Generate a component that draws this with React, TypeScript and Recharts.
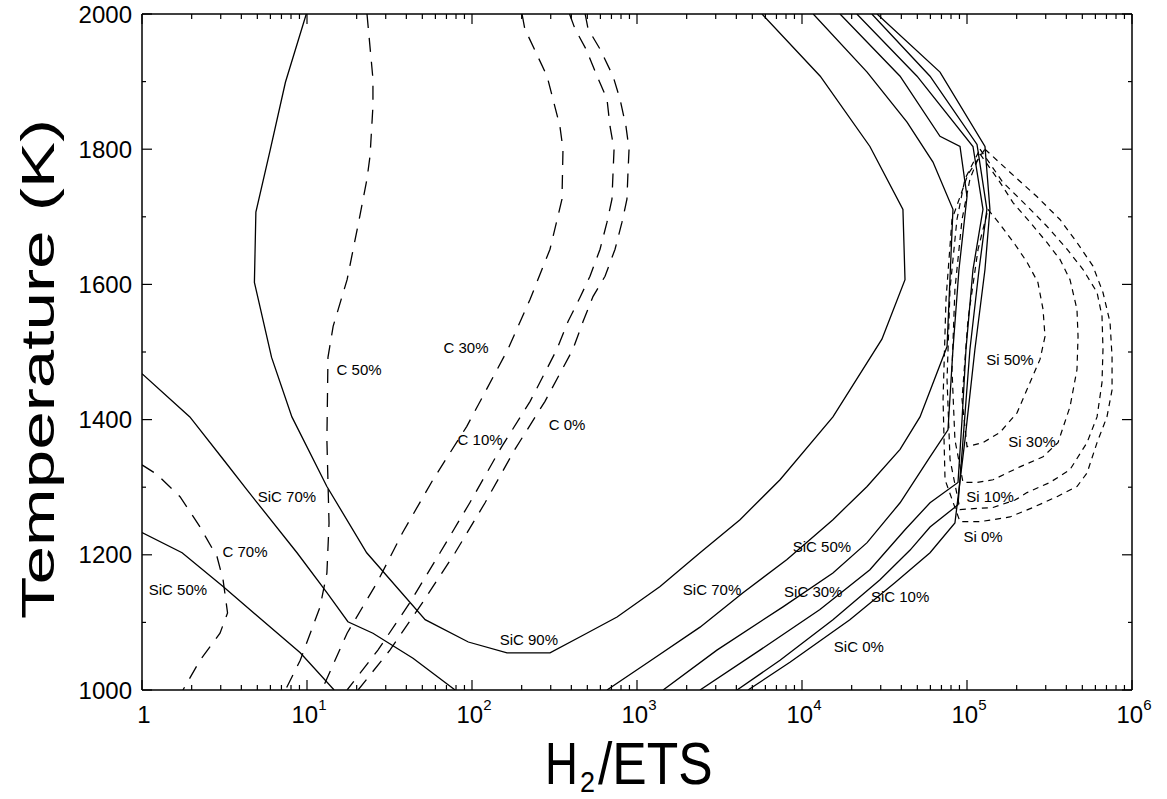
import React from 'react';
import { LineChart, Line, XAxis, YAxis, ReferenceDot } from 'recharts';

// [H2/ETS ratio, temperature K]
type Pt = [number, number];

const FONT = '"Liberation Sans", Arial, Helvetica, sans-serif';

// solid SiC yield contours
const sic90: Pt[] = [
  [9.9, 2000], [7.4, 1899], [6.0, 1800], [4.9, 1707], [4.8, 1603], [6.1, 1492], [8.1, 1404],
  [13.2, 1301], [23, 1203], [52, 1104], [95, 1071], [163, 1055], [297, 1055], [471, 1081],
  [757, 1108], [1380, 1153], [2410, 1203], [4210, 1252], [7360, 1311], [15400, 1404],
  [30500, 1519], [42100, 1607], [40900, 1711], [25800, 1804], [12900, 1908], [5720, 2000],
];
const sic70Low: Pt[] = [
  [1.0, 1468], [1.95, 1404], [3.18, 1338], [4.33, 1296], [8.7, 1203], [13.2, 1144],
  [17.7, 1101], [25.1, 1084], [43.9, 1047], [79, 1000],
];
const sic50Low: Pt[] = [[1.0, 1233], [1.75, 1203], [3.1, 1153], [9.1, 1055], [14.6, 1000]];
const sic70High: Pt[] = [
  [658, 1000], [1200, 1043], [2410, 1093], [4390, 1144], [8110, 1193], [15400, 1252],
  [24800, 1301], [39300, 1356], [51900, 1404], [75700, 1508], [82200, 1711], [62200, 1781],
  [43300, 1840], [24800, 1914], [11700, 2000],
];
const sic50High: Pt[] = [
  [1440, 1000], [3050, 1059], [7670, 1123], [15400, 1173], [24800, 1218], [39300, 1277],
  [59700, 1345], [76700, 1385], [82200, 1504], [89400, 1622], [100000, 1730], [90700, 1804],
  [68600, 1819], [39300, 1908], [17000, 2000],
];
const sic30High: Pt[] = [
  [2410, 1000], [5560, 1059], [12850, 1119], [25800, 1178], [42100, 1237], [59700, 1277],
  [88200, 1307], [93300, 1400], [98600, 1504], [108700, 1622], [125000, 1711], [108700, 1804],
  [49800, 1908], [21500, 2000],
];
const sic10High: Pt[] = [
  [4040, 1000], [7360, 1044], [15400, 1104], [29700, 1163], [45200, 1207], [59700, 1241],
  [88200, 1274], [94600, 1370], [104200, 1504], [118300, 1622], [132000, 1711], [115000, 1807],
  [59700, 1908], [26500, 2000],
];
const sic0High: Pt[] = [
  [4710, 1000], [8450, 1041], [19500, 1104], [36700, 1159], [59700, 1203], [84500, 1247],
  [97200, 1370], [111700, 1504], [128500, 1622], [137700, 1711], [128500, 1804], [68600, 1914],
  [28500, 2000],
];

// long-dashed carbon contours
const c70: Pt[] = [
  [1.0, 1333], [1.23, 1319], [1.7, 1286], [2.25, 1241], [2.85, 1197], [3.1, 1163], [3.3, 1114],
  [2.97, 1084], [2.25, 1044], [1.77, 1000],
];
const c50: Pt[] = [
  [23.1, 2000], [25.1, 1904], [25.1, 1864], [24.1, 1790], [23.1, 1756], [20.9, 1701], [17.5, 1607],
  [14.4, 1538], [13.4, 1492], [13.2, 1370], [13.6, 1247], [13.2, 1173], [12.0, 1123], [9.1, 1044],
  [7.4, 1000],
];
const c30: Pt[] = [
  [201, 2000], [209, 1978], [285, 1908], [341, 1834], [356, 1800], [351, 1726], [297, 1652],
  [225, 1578], [165, 1504], [93, 1390], [58, 1311], [38, 1233], [26.6, 1159], [17.5, 1084],
  [12.3, 1000],
];
const c10: Pt[] = [
  [390, 2000], [421, 1978], [491, 1948], [573, 1908], [658, 1874], [686, 1834], [726, 1800],
  [716, 1766], [705, 1726], [658, 1692], [597, 1652], [519, 1612], [452, 1581], [382, 1545],
  [327, 1504], [225, 1427], [148, 1356], [97, 1277], [64, 1203], [42, 1129], [26.9, 1059],
  [17.5, 1000],
];
const c0: Pt[] = [
  [485, 2000], [505, 1978], [597, 1948], [716, 1908], [789, 1874], [857, 1834], [895, 1800],
  [882, 1766], [869, 1726], [811, 1692], [736, 1652], [640, 1612], [541, 1582], [471, 1545],
  [409, 1504], [277, 1427], [182, 1356], [120, 1277], [79, 1203], [50, 1129], [31.8, 1059],
  [20.4, 1000],
];

// short-dashed silicon loops
const si0: Pt[] = [
  [128500, 1800], [182000, 1766], [265000, 1730], [366000, 1696], [464000, 1662], [580000, 1627],
  [667000, 1588], [736000, 1544], [757000, 1493], [757000, 1444], [705000, 1404], [614000, 1366],
  [534000, 1321], [464000, 1301], [351000, 1286], [251000, 1270], [182000, 1256], [119900, 1249],
  [90700, 1249], [73600, 1311], [71600, 1430], [74600, 1578], [81100, 1696], [101400, 1763],
  [128500, 1800],
];
const si10: Pt[] = [
  [119900, 1800], [165000, 1751], [231000, 1716], [305000, 1686], [404000, 1652], [505000, 1622],
  [614000, 1588], [658000, 1553], [667000, 1504], [658000, 1455], [614000, 1404], [534000, 1366],
  [421000, 1326], [318000, 1307], [231000, 1292], [195500, 1281], [143800, 1270], [90700, 1267],
  [78900, 1341], [75700, 1459], [78900, 1593], [86900, 1696], [97200, 1756], [119900, 1800],
];
const si30: Pt[] = [
  [119900, 1793], [158500, 1751], [190000, 1721], [241000, 1692], [305000, 1662], [366000, 1637],
  [421000, 1607], [464000, 1563], [471000, 1523], [464000, 1474], [421000, 1419], [356000, 1366],
  [289000, 1345], [209000, 1330], [143800, 1311], [115000, 1307], [94600, 1307], [84500, 1370],
  [81100, 1474], [84500, 1593], [93300, 1696], [104200, 1756], [119900, 1793],
];
const si50: Pt[] = [
  [134000, 1711], [158500, 1689], [195500, 1659], [231000, 1633], [269000, 1603], [289000, 1563],
  [297000, 1523], [277000, 1489], [241000, 1455], [201000, 1410], [158500, 1381], [125000, 1366],
  [100000, 1360], [93300, 1430], [101400, 1548], [116700, 1652], [134000, 1711],
];

const solidCurves = [sic90, sic70Low, sic50Low, sic70High, sic50High, sic30High, sic10High, sic0High];
const carbonCurves = [c70, c50, c30, c10, c0];
const siliconCurves = [si0, si10, si30, si50];

const curveLabels: { text: string; x: number; t: number }[] = [
  { text: 'SiC 70%', x: 7.56, t: 1286 },
  { text: 'SiC 50%', x: 1.65, t: 1148 },
  { text: 'C 70%', x: 4.21, t: 1204 },
  { text: 'C 50%', x: 20.7, t: 1474 },
  { text: 'C 30%', x: 92, t: 1507 },
  { text: 'C 10%', x: 112, t: 1370 },
  { text: 'C 0%', x: 377, t: 1393 },
  { text: 'SiC 90%', x: 221, t: 1074 },
  { text: 'SiC 70%', x: 2850, t: 1148 },
  { text: 'SiC 50%', x: 13200, t: 1212 },
  { text: 'SiC 30%', x: 11700, t: 1145 },
  { text: 'SiC 10%', x: 39300, t: 1138 },
  { text: 'SiC 0%', x: 22100, t: 1064 },
  { text: 'Si 50%', x: 182000, t: 1489 },
  { text: 'Si 30%', x: 248000, t: 1367 },
  { text: 'Si 10%', x: 138000, t: 1286 },
  { text: 'Si 0%', x: 125000, t: 1227 },
];

const decades = [1, 10, 100, 1000, 10000, 100000, 1000000];
const minorSteps = [2, 3, 4, 5, 6, 7, 8, 9];
const ratioTicks = decades.flatMap((d, i) => (i < decades.length - 1 ? [d, ...minorSteps.map((m) => m * d)] : [d]));
const tempTicks = [1000, 1100, 1200, 1300, 1400, 1500, 1600, 1700, 1800, 1900, 2000];

const rows = (pts: Pt[]) => pts.map(([x, t]) => ({ x, t }));

const isDecade = (v: number) => decades.includes(v);

const BottomTick = (props: any) => {
  const { x, y, payload } = props;
  const v = payload.value;
  const major = isDecade(v);
  const exp = Math.round(Math.log10(v));
  return (
    <g>
      <line x1={x} y1={y} x2={x} y2={y - (major ? 10 : 5)} stroke="#000" strokeWidth={1.2} />
      {major && (
        <text x={x + 2} y={y + 33} textAnchor="middle" fontFamily={FONT} fontSize={24} fill="#000">
          {exp === 0 ? '1' : '10'}
          {exp > 0 && (
            <tspan dy={-13} fontSize={15}>
              {exp}
            </tspan>
          )}
        </text>
      )}
    </g>
  );
};

const TopTick = (props: any) => {
  const { x, y, payload } = props;
  const major = isDecade(payload.value);
  return <line x1={x} y1={y} x2={x} y2={y + (major ? 10 : 5)} stroke="#000" strokeWidth={1.2} />;
};

const LeftTick = (props: any) => {
  const { x, y, payload } = props;
  const major = payload.value % 200 === 0;
  return (
    <g>
      <line x1={x} y1={y} x2={x + (major ? 10 : 4)} y2={y} stroke="#000" strokeWidth={1.2} />
      {major && (
        <text x={x - 10} y={y} dy="0.36em" textAnchor="end" fontFamily={FONT} fontSize={24} fill="#000">
          {payload.value}
        </text>
      )}
    </g>
  );
};

const RightTick = (props: any) => {
  const { x, y, payload } = props;
  const major = payload.value % 200 === 0;
  return <line x1={x} y1={y} x2={x - (major ? 10 : 4)} y2={y} stroke="#000" strokeWidth={1.2} />;
};

const YTitle = () => (
  <text
    transform="translate(54,369) rotate(-90)"
    textAnchor="middle"
    fontFamily={FONT}
    fontSize={46}
    fill="#000"
    textLength={500}
    lengthAdjust="spacingAndGlyphs"
  >
    Temperature (K)
  </text>
);

// H2/ETS with a lowered subscript, glyphs squeezed horizontally
const XTitle = () => (
  <g fontFamily={FONT} fill="#000">
    <text transform="translate(545,784) scale(0.76,1)" fontSize={60}>
      H
    </text>
    <text transform="translate(580,792) scale(0.9,1)" fontSize={30}>
      2
    </text>
    <text transform="translate(598,784) scale(0.86,1)" fontSize={60}>
      /ETS
    </text>
  </g>
);

const axisLine = { stroke: '#000', strokeWidth: 1.5 };

export default function App() {
  return (
    <div style={{ position: 'absolute', left: 0, top: 0, width: 1167, height: 799, background: '#fff' }}>
      <LineChart width={1167} height={799} margin={{ top: 0, right: 0, bottom: 0, left: 0 }}>
        <XAxis
          xAxisId="b"
          type="number"
          dataKey="x"
          scale="log"
          domain={[1, 1000000]}
          allowDataOverflow
          ticks={ratioTicks}
          interval={0}
          height={109}
          tickSize={0}
          tickMargin={0}
          tickLine={false}
          tick={<BottomTick />}
          axisLine={axisLine}
          label={<XTitle />}
        />
        <XAxis
          xAxisId="t"
          orientation="top"
          type="number"
          dataKey="x"
          scale="log"
          domain={[1, 1000000]}
          allowDataOverflow
          ticks={ratioTicks}
          interval={0}
          height={14}
          tickSize={0}
          tickMargin={0}
          tickLine={false}
          tick={<TopTick />}
          axisLine={axisLine}
        />
        <YAxis
          yAxisId="l"
          type="number"
          domain={[1000, 2000]}
          allowDataOverflow
          ticks={tempTicks}
          interval={0}
          width={142}
          tickSize={0}
          tickMargin={0}
          tickLine={false}
          tick={<LeftTick />}
          axisLine={axisLine}
          label={<YTitle />}
        />
        <YAxis
          yAxisId="r"
          orientation="right"
          type="number"
          domain={[1000, 2000]}
          allowDataOverflow
          ticks={tempTicks}
          interval={0}
          width={35}
          tickSize={0}
          tickMargin={0}
          tickLine={false}
          tick={<RightTick />}
          axisLine={axisLine}
        />

        {solidCurves.map((pts, i) => (
          <Line
            key={`s${i}`}
            xAxisId="b"
            yAxisId="l"
            data={rows(pts)}
            dataKey="t"
            type="linear"
            stroke="#000"
            strokeWidth={1.3}
            dot={false}
            activeDot={false}
            isAnimationActive={false}
          />
        ))}
        {carbonCurves.map((pts, i) => (
          <Line
            key={`c${i}`}
            xAxisId="b"
            yAxisId="l"
            data={rows(pts)}
            dataKey="t"
            type="linear"
            stroke="#000"
            strokeWidth={1.3}
            strokeDasharray="14 10"
            dot={false}
            activeDot={false}
            isAnimationActive={false}
          />
        ))}
        {siliconCurves.map((pts, i) => (
          <Line
            key={`si${i}`}
            xAxisId="b"
            yAxisId="l"
            data={rows(pts)}
            dataKey="t"
            type="linear"
            stroke="#000"
            strokeWidth={1.2}
            strokeDasharray="6 5"
            dot={false}
            activeDot={false}
            isAnimationActive={false}
          />
        ))}

        {curveLabels.map((l, i) => (
          <ReferenceDot
            key={`l${i}`}
            xAxisId="b"
            yAxisId="l"
            x={l.x}
            y={l.t}
            r={0}
            fill="none"
            stroke="none"
            label={{ value: l.text, position: 'center', fill: '#000', fontSize: 15, fontFamily: FONT }}
          />
        ))}
      </LineChart>
    </div>
  );
}
